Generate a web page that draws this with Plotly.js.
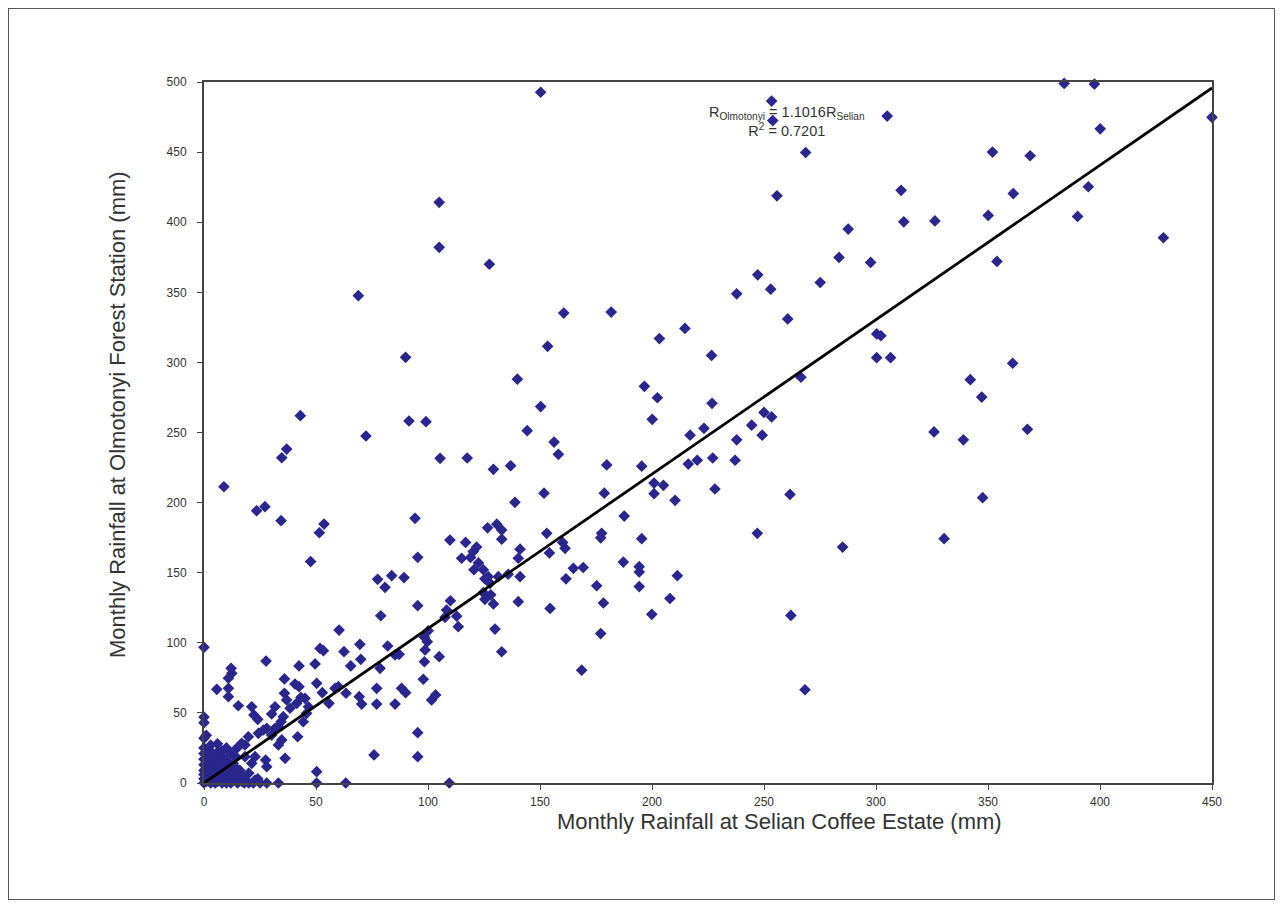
<!DOCTYPE html>
<html>
<head>
<meta charset="utf-8">
<script src="https://cdn.plot.ly/plotly-3.0.1.min.js"></script>
<style>
  html, body { margin: 0; padding: 0; background: #fff; }
  #chart { width: 1283px; height: 909px; }
  #frame { position: absolute; left: 8px; top: 8px; width: 1265px; height: 890px; border: 1.5px solid #555; pointer-events: none; }
</style>
</head>
<body>
<div id="chart"></div>
<div id="frame"></div>
<script>
// Monthly rainfall at Selian Coffee Estate (mm)
const selian = [
  384,397.5,400.1,450,368.8,361.3,394.8,390,428.3,361,367.6,
  253.4,253.9,305,268.6,352,255.8,311.2,312.4,326.3,350.1,287.6,354,283.5,297.6,247.2,253,275.1,260.6,300.3,302.2,300.3,306.5,266.5,342.1,347.2,244.5,250,253.4,249.2,325.9,339,347.6,261.6,247,285.1,330.4,262,268.3,
  150.3,127.4,237.8,160.6,181.8,214.7,203.3,153.4,226.6,139.9,196.6,202.4,150.3,226.8,200.1,144.3,156.3,158.2,117.5,129.2,136.9,179.8,195.4,217,223.2,216.2,220.2,227.1,237.1,237.8,228.1,151.8,178.7,200.9,205.1,200.9,210.3,138.8,187.6,177.5,177.1,195.4,153,160.1,161.2,154.2,141.1,140.3,126.6,130.7,132.9,132.9,116.8,120.2,121.7,119,122.5,124.7,120.5,125.4,127.7,124.7,128,125.4,129.2,129.9,132.9,126.9,109.8,115,110,112.8,113.5,131.4,135.8,141.1,140.3,154.5,161.6,164.9,169.3,175.3,178.3,177.1,168.6,187.2,194.3,194.3,194.3,199.9,208,211.3,109.5,108.3,99.7,
  105,105,68.9,90,43,91.5,99.1,72.3,36.9,34.7,105.4,8.9,23.5,27.2,34.4,53.6,51.5,94.2,47.6,95.4,
  77.5,83.8,89.3,80.8,95.4,78.9,60.3,0,51.8,53.3,62.5,69.6,70,82,85.3,27.7,42.4,49.6,65.5,78.6,87.1,98.4,100.1,98.7,98.4,105,107.6,12.1,12.4,10.9,5.7,10.9,10.9,15.3,21.3,22.3,24,30.2,35.9,35.9,36.9,38.4,40.6,42.4,43.3,41.4,45.1,46.6,50.3,52.8,55.8,58.5,60,63.4,69.3,70.4,77.1,77.1,85.3,88.2,90,101.6,103.4,97.9,95.4,95.4,75.9,41.8,34.7,33.2,36.2,50.3,50.3,63.3,33.2,28,22.8,27.5,28,21.3,22.8,18.3,24.3,26.5,28,30.2,31.7,33.2,34.4,35.4,19.8,16.8,18.3,14.6,31.7,45.8,44.3,
  0,0,0,0,0,0,0,0,0,0,1,1,1,2,2,2,2,3,3,3,3,3,4,4,4,4,5,5,5,5,6,6,6,6,7,7,8,8,8,9,9,10,10,10,11,11,12,12,12,13,13,14,14,15,15,16,17,18,18,20,20,22,24,25,6,8,10,14,3,1,0
];
// Monthly rainfall at Olmotonyi Forest Station (mm)
const olmotonyi = [
  499,498.5,466.6,474.8,447.4,420.4,425.3,404.1,388.9,299.4,252.3,
  486.4,472.5,475.7,449.7,450,418.8,422.7,400.3,400.9,404.8,395.1,372,374.9,371.3,362.5,352.2,357,331,320.3,319,303.4,303.4,289.4,287.7,275.3,255.2,264.3,261.1,248.1,250.4,244.8,203.5,205.8,178.1,168.3,174.3,119.5,66.5,
  492.7,370,348.9,335.2,335.9,324.2,317,311.5,305,288,282.9,274.8,268.5,270.8,259.4,251.3,243.2,234.4,231.8,223.7,226.3,226.9,226,248.1,253,227.5,230.2,231.8,230.2,244.8,209.7,206.7,206.7,213.9,212.3,206.4,201.6,200.2,190.4,178.1,174.9,174.3,178.1,171.6,167.4,164.1,166.8,160.3,182,184.6,180.4,173.9,171.6,165.1,168.3,160.9,157,152.1,152.1,145.6,142.4,135.8,134.2,131,127.7,109.8,93.6,147.2,173.3,160.3,130,119,111.5,147.2,148.9,147.2,129.3,124.5,145.6,153.1,153.7,140.7,128.4,106.6,80.5,157.6,154.3,150.5,140.1,120.3,131.6,147.9,0,123.4,100.8,
  414.2,382.1,347.6,303.6,262,258.2,257.7,247.5,238.2,232,231.6,211.3,194.2,197.1,187.1,184.7,178.5,188.8,157.9,161,
  145.3,147.9,146.5,139.6,126.5,119.3,109.1,96.8,96,94.4,93.7,98.9,88.2,97.7,91.3,87,83.5,84.9,83.5,81.8,91.8,103.9,108.6,94.9,86.5,90.1,118.2,81.8,78.2,74.7,66.8,67.5,61.6,55.1,54.4,48.5,45.4,49.2,74.2,64,59.2,53.3,70.6,68.7,61.1,56.8,60.4,54.4,71.1,64.4,56.8,67.5,68.7,64,61.6,56.3,67.5,56.3,56.3,67.5,64.4,59.2,62.8,74,35.9,18.8,20,33,30.7,27.1,17.6,8.1,0,0,0,0,2.1,16.4,11.6,14,18.8,18.8,35.4,37.8,39,34.2,39,40.2,43.7,47.3,33,28.3,27.1,24.7,54.4,49.7,43.7,
  0,3,6,9,13,17,21,25,32,43,1,5,10,2,14,19,24,0,4,8,12,16,2,6,10,20,0,3,13,17,1,7,11,22,4,15,0,9,19,3,12,0,6,16,2,10,0,5,21,8,14,2,11,0,5,9,1,0,4,0,7,0,3,0,28,23,25,19,27,34,47
];
// Trend line: R_Olmotonyi = 1.1016 R_Selian
const slope = 1.1016;
const r2 = 0.7201;
const lineX = [0, 450];
const lineY = lineX.map(v => v * slope);

const xTicks = [0,50,100,150,200,250,300,350,400,450];
const yTicks = [0,50,100,150,200,250,300,350,400,450,500];

const font = 'Arial, "Liberation Sans", sans-serif';

Plotly.newPlot('chart', [
  {
    x: selian, y: olmotonyi, type: 'scatter', mode: 'markers',
    marker: { symbol: 'diamond', size: 9, color: '#2a268e', line: { width: 0 } },
    cliponaxis: false, hoverinfo: 'x+y'
  },
  {
    x: lineX, y: lineY, type: 'scatter', mode: 'lines',
    line: { color: '#000', width: 2.8 }, hoverinfo: 'skip'
  }
], {
  width: 1283, height: 909,
  margin: { l: 204, r: 71, t: 82, b: 126 },
  paper_bgcolor: '#fff', plot_bgcolor: '#fff',
  showlegend: false,
  font: { family: font, color: '#333' },
  xaxis: {
    range: [0, 450], tickvals: xTicks, ticktext: xTicks.map(String),
    showgrid: false, zeroline: false,
    showline: true, linecolor: '#444', linewidth: 2, mirror: true,
    ticks: 'outside', ticklen: 5, tickcolor: '#444', tickwidth: 1,
    tickfont: { size: 12, color: '#333', family: font },
    ticklabelstandoff: 2
  },
  yaxis: {
    range: [0, 500], tickvals: yTicks, ticktext: yTicks.map(String),
    showgrid: false, zeroline: false,
    showline: true, linecolor: '#444', linewidth: 2, mirror: true,
    ticks: 'outside', ticklen: 5, tickcolor: '#444', tickwidth: 1,
    tickfont: { size: 12, color: '#333', family: font },
    ticklabelstandoff: 8
  },
  annotations: [
    {
      xref: 'paper', yref: 'paper', x: 0.571, y: -0.0556,
      xanchor: 'center', yanchor: 'middle', showarrow: false,
      text: 'Monthly Rainfall at Selian Coffee Estate (mm)',
      font: { size: 22, color: '#333', family: font }
    },
    {
      xref: 'paper', yref: 'paper', x: -0.0853, y: 0.525,
      xanchor: 'center', yanchor: 'middle', showarrow: false, textangle: -90,
      text: 'Monthly Rainfall at Olmotonyi Forest Station (mm)',
      font: { size: 22, color: '#333', family: font }
    },
    {
      xref: 'x', yref: 'y', x: 260.3, y: 471.5,
      xanchor: 'center', yanchor: 'middle', showarrow: false, align: 'center',
      text: 'R<sub>Olmotonyi</sub> = ' + slope.toFixed(4) + 'R<sub>Selian</sub><br>R<sup>2</sup> = ' + r2.toFixed(4),
      font: { size: 14.5, color: '#333', family: font }
    }
  ]
}, { displayModeBar: false, staticPlot: false });
</script>
</body>
</html>
